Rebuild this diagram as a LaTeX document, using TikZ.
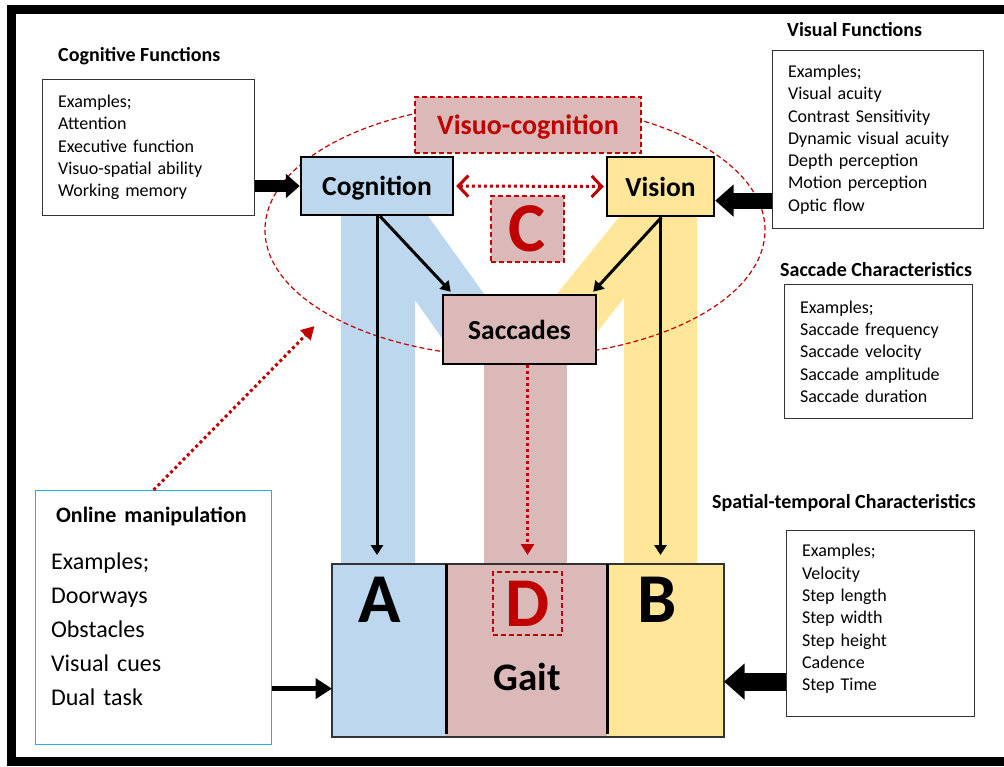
\documentclass[tikz,border=0pt]{standalone}
\usepackage{fontspec}
\setmainfont{Carlito}
\usetikzlibrary{arrows.meta,positioning,shapes.geometric}

\definecolor{cogblue}{HTML}{BDD7EE}
\definecolor{visyellow}{HTML}{FFE699}
\definecolor{sacpink}{HTML}{DBB9B9}
\definecolor{darkred}{HTML}{C00000}
\definecolor{onlinecyan}{HTML}{1FB0E8}

\begin{document}
\begin{tikzpicture}[
  x=1pt,y=-1pt,
  infobox/.style={draw=black!80, line width=1.2pt, anchor=north west, align=left, inner xsep=15.5pt, text width=#1, font=\fontsize{18}{22.3}\selectfont},
  heading/.style={anchor=west, inner sep=0pt, font=\bfseries\fontsize{20}{22}\selectfont},
  core/.style={draw, line width=2.5pt, inner sep=0pt, text depth=0pt, font=\bfseries\fontsize{27.5}{30}\selectfont},
  redbox/.style={draw=darkred, line width=1.3pt, dash pattern=on 5pt off 3pt, fill=sacpink, text=darkred, inner sep=0pt, text depth=0pt},
  letter/.style={inner sep=0pt, font=\bfseries\fontsize{70}{70}\selectfont},
  column/.style={inner sep=0pt, outer sep=0pt, minimum height=173pt},
  arr/.style={-{Triangle[length=0pt 3.3,width=0pt 4]}, line width=#1},
  fatarr/.style={-{Triangle[length=0pt 1.15,width=0pt 1.95]}, line width=#1},
  dotarr/.style={darkred, line width=3pt, dash pattern=on 3pt off 3pt}
]
\useasboundingbox (0,0) rectangle (1004,767);
\draw[line width=9pt] (1010,9.5) -- (11,9.5) -- (11,761.5) -- (1010,761.5);

% M-shaped bands behind the boxes
\fill[cogblue] (341,216) -- (428,216) -- (500,316) -- (460,364) -- (415,300) -- (415,564) -- (341,564) -- cycle;
\fill[visyellow] (697,216) -- (620,216) -- (540,315) -- (572,364) -- (624,298) -- (624,564) -- (697,564) -- cycle;
\fill[sacpink] (484,360) rectangle (567,564);

\node[ellipse, draw=darkred, line width=1.2pt, dash pattern=on 5pt off 3pt, minimum width=500pt, minimum height=254pt, inner sep=0pt] (vcloop) at (515,230) {};

\node[core, fill=cogblue, minimum width=152pt, minimum height=58pt] (cog) at (377,186) {Cognition};
\node[core, fill=visyellow, minimum width=107pt, minimum height=59pt] (vis) at (660.5,186.5) {Vision};
\node[core, fill=sacpink, minimum width=153pt, minimum height=69pt] (sac) at (519.5,329.5) {Saccades};
\node[redbox, minimum width=226pt, minimum height=56pt, font=\bfseries\fontsize{28}{30}\selectfont] (vc) at (528,125) {Visuo-cognition};
\node[redbox, letter, minimum width=73pt, minimum height=66pt] (cbox) at (527.5,229) {C};

% gait block
\node[column, fill=cogblue, minimum width=114pt] (colA) at (389,650.5) {};
\node[column, fill=sacpink, minimum width=161pt, right=0pt of colA] (colD) {};
\node[column, fill=visyellow, minimum width=117pt, right=0pt of colD] (colB) {};
\draw[black!80, line width=1.2pt] (colA.north west) rectangle (colB.south east);
\draw[line width=3pt] (colA.north east) -- ([yshift=3pt]colA.south east);
\draw[line width=3pt] (colD.north east) -- ([yshift=3pt]colD.south east);
\node[letter] (la) at (380,600) {A};
\node[letter] (lb) at (657,600) {B};
\node[redbox, letter, minimum width=69pt, minimum height=63pt] (dbox) at (527.5,603.5) {D};
\node[inner sep=0pt, font=\bfseries\fontsize{39}{40}\selectfont] (gait) at (527,677) {Gait};

% side boxes
\node[heading] (cfh) at (58,56) {Cognitive Functions};
\node[infobox=181pt, minimum height=136pt] (cf) at (42,79) {Examples;\\Attention\\Executive function\\Visuo-spatial ability\\Working memory};
\node[heading] (vfh) at (787,30) {Visual Functions};
\node[infobox=180pt, minimum height=178pt] (vf) at (772,50) {Examples;\\Visual acuity\\Contrast Sensitivity\\Dynamic visual acuity\\Depth perception\\Motion perception\\Optic flow};
\node[heading] (sch) at (780,270) {Saccade Characteristics};
\node[infobox=157pt, minimum height=134pt] (sc) at (784,284) {Examples;\\Saccade frequency\\Saccade velocity\\Saccade amplitude\\Saccade duration};
\node[heading] (sth) at (712,503) {Spatial-temporal Characteristics};
\node[infobox=157pt, minimum height=186pt] (st) at (786,530) {Examples;\\Velocity\\Step length\\Step width\\Step height\\Cadence\\Step Time\\[-10pt]\mbox{}};
\node[infobox=205pt, draw=onlinecyan, minimum height=254pt, font=\fontsize{24}{34}\selectfont] (om) at (35,490) {\hspace*{5pt}\textbf{\fontsize{22}{26}\selectfont Online manipulation}\\[13pt]Examples;\\Doorways\\Obstacles\\Visual cues\\Dual task\\[-12pt]\mbox{}};

% connectors
\draw[fatarr=12pt] (cf.east |- cog.west) -- (cog.west);
\draw[fatarr=16pt] ([yshift=-61pt]vf.west) -- ([yshift=-61pt]vf.west -| vis.east);
\draw[fatarr=18pt] ([yshift=-58pt]st.west) -- ([yshift=-58pt]st.west -| colB.east);
\draw[arr=5pt] ([yshift=-71pt]om.east) -- ([yshift=-71pt]om.east -| colA.west);
\draw[arr=3pt, shorten >=9pt] (cog.south) -- (cog.south |- colA.north);
\draw[arr=3pt, shorten >=9pt] (vis.south) -- (vis.south |- colB.north);
\draw[arr=3pt] ([xshift=3pt]cog.south) -- ([xshift=9pt,yshift=2pt]sac.north west);
\draw[arr=3pt] ([xshift=1pt]vis.south) -- ([xshift=-4pt,yshift=2pt]sac.north east);
\draw[dotarr, {Straight Barb[length=10pt,width=21pt]}-{Straight Barb[length=10pt,width=21pt]}, shorten <=2pt, shorten >=2pt] (cog.east) -- (vis.west);
\draw[dotarr, -{Triangle[length=11pt,width=13pt]}, shorten >=9pt] (sac.south -| dbox) -- (dbox |- colD.north);
\draw[dotarr, -{Triangle[length=13pt,width=14pt]}, shorten >=17pt] (om.north) -- (vcloop.204);
\end{tikzpicture}
\end{document}
